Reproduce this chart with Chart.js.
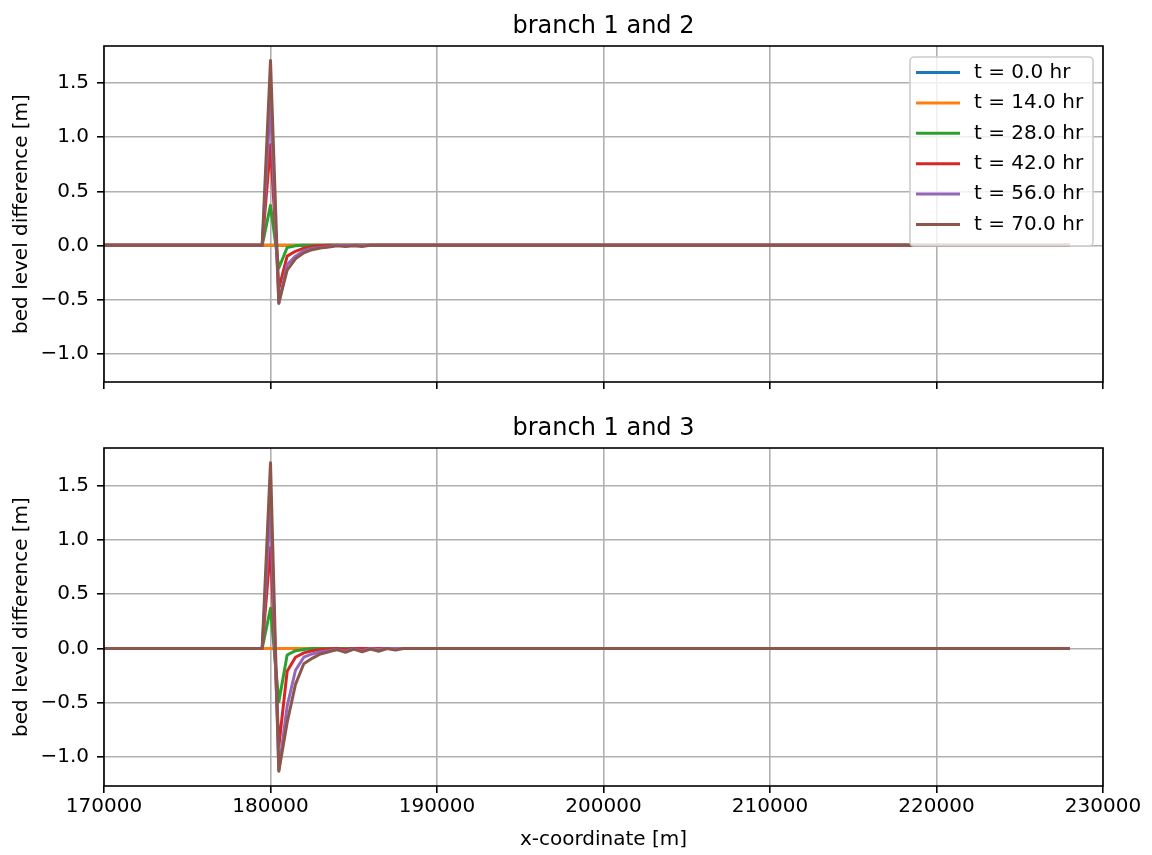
<!DOCTYPE html>
<html>
<head>
<meta charset="utf-8">
<script src="https://cdn.jsdelivr.net/npm/chart.js@4.4.0/dist/chart.umd.min.js"></script>
<style>
body { margin: 0; background: #fff; }
#wrap { position: relative; width: 1152px; height: 855px; }
canvas { position: absolute; left: 0; }
#top { top: 0; }
#bottom { top: 402px; }
</style>
</head>
<body>
<div id="wrap">
	<canvas id="top" width="1152" height="402"></canvas>
	<canvas id="bottom" width="1152" height="453"></canvas>
</div>
<script>
// x positions along the branch (m), the model output is flat outside this range
const xCoords = [170000, 179500, 180000, 180500, 181000, 181500, 182000, 182500, 183000, 183500,
	184000, 184500, 185000, 185500, 186000, 186500, 187000, 187500, 188000, 228000];

const timeLabels = ["t = 0.0 hr", "t = 14.0 hr", "t = 28.0 hr", "t = 42.0 hr", "t = 56.0 hr", "t = 70.0 hr"];
const lineColors = ["#1f77b4", "#ff7f0e", "#2ca02c", "#d62728", "#9467bd", "#8c564b"];

const xTicks = [170000, 180000, 190000, 200000, 210000, 220000, 230000];
const yTicks = [-1.0, -0.5, 0.0, 0.5, 1.0, 1.5];

// branch 1 and 2
const b12_t0 = [0, 0, 0, 0, 0, 0, 0, 0, 0, 0, 0, 0, 0, 0, 0, 0, 0, 0, 0, 0];
const b12_t14 = [0, 0, 0, 0, 0, 0, 0, 0, 0, 0, 0, 0, 0, 0, 0, 0, 0, 0, 0, 0];
const b12_t28 = [0, 0, 0.37, -0.21, -0.02, -0.005, 0, 0, 0, 0, 0, 0, 0, 0, 0, 0, 0, 0, 0, 0];
const b12_t42 = [0, 0, 0.93, -0.40, -0.10, -0.055, -0.025, -0.01, -0.005, 0, 0, 0, 0, 0, 0, 0, 0, 0, 0, 0];
const b12_t56 = [0, 0, 1.33, -0.54, -0.18, -0.10, -0.05, -0.03, -0.02, -0.01, 0, -0.005, 0, 0, 0, 0, 0, 0, 0, 0];
const b12_t70 = [0, 0, 1.71, -0.53, -0.23, -0.125, -0.07, -0.04, -0.025, -0.015, -0.005, -0.012, -0.003, -0.01, 0, 0, 0, 0, 0, 0];

// branch 1 and 3
const b13_t0 = [0, 0, 0, 0, 0, 0, 0, 0, 0, 0, 0, 0, 0, 0, 0, 0, 0, 0, 0, 0];
const b13_t14 = [0, 0, 0, 0, 0, 0, 0, 0, 0, 0, 0, 0, 0, 0, 0, 0, 0, 0, 0, 0];
const b13_t28 = [0, 0, 0.37, -0.49, -0.06, -0.02, -0.01, 0, 0, 0, 0, 0, 0, 0, 0, 0, 0, 0, 0, 0];
const b13_t42 = [0, 0, 0.93, -0.90, -0.21, -0.08, -0.04, -0.02, -0.01, -0.005, 0, -0.01, 0, 0, 0, 0, 0, 0, 0, 0];
const b13_t56 = [0, 0, 1.33, -1.12, -0.53, -0.20, -0.08, -0.05, -0.03, -0.02, -0.01, -0.025, -0.005, -0.02, 0, -0.01, 0, 0, 0, 0];
const b13_t70 = [0, 0, 1.71, -1.13, -0.68, -0.33, -0.14, -0.09, -0.05, -0.03, -0.01, -0.035, -0.005, -0.03, -0.005, -0.025, 0, -0.015, 0, 0];

const yMin = -1.265;
const yMax = 1.845;

Chart.defaults.font.family = '"DejaVu Sans", sans-serif';
Chart.defaults.color = "#000";

// black box round the plot area, like matplotlib spines
const framePlugin = {
	id: "frame",
	afterDatasetsDraw(chart) {
		const ctx = chart.ctx;
		const a = chart.chartArea;
		ctx.save();
		ctx.strokeStyle = "#000";
		ctx.lineWidth = 1.6;
		ctx.strokeRect(a.left, a.top, a.right - a.left, a.bottom - a.top);
		ctx.restore();
	},
};

// legend box inside the upper right corner
const boxLegend = {
	id: "boxLegend",
	afterDraw(chart, args, opts) {
		if (!opts.show) return;
		const ctx = chart.ctx;
		const a = chart.chartArea;
		const w = 183, h = 189;
		const x0 = a.right - 10 - w;
		const y0 = a.top + 11;
		ctx.save();
		ctx.beginPath();
		ctx.roundRect(x0, y0, w, h, 4);
		ctx.fillStyle = "rgba(255,255,255,0.8)";
		ctx.fill();
		ctx.strokeStyle = "#cccccc";
		ctx.lineWidth = 1.6;
		ctx.stroke();
		ctx.font = '20px "DejaVu Sans"';
		ctx.textBaseline = "middle";
		chart.data.datasets.forEach((ds, i) => {
			const y = y0 + 15.5 + i * 30.4;
			ctx.strokeStyle = ds.borderColor;
			ctx.lineWidth = 3;
			ctx.beginPath();
			ctx.moveTo(x0 + 6, y);
			ctx.lineTo(x0 + 50, y);
			ctx.stroke();
			ctx.fillStyle = "#000";
			ctx.fillText(ds.label, x0 + 64, y);
		});
		ctx.restore();
	},
};

function makeChart(canvasId, title, series, showXLabels, xAxisHeight, showLegend) {
	const ctx = document.getElementById(canvasId).getContext("2d");
	return new Chart(ctx, {
		type: "line",
		data: {
			datasets: series.map((values, i) => ({
				label: timeLabels[i],
				data: xCoords.map((x, k) => ({ x: x, y: values[k] })),
				borderColor: lineColors[i],
				backgroundColor: lineColors[i],
				borderWidth: 3,
				borderJoinStyle: "round",
				pointRadius: 0,
				tension: 0,
				fill: false,
				order: series.length - 1 - i,
			})),
		},
		options: {
			responsive: false,
			animation: false,
			events: [],
			layout: { padding: { left: 0, right: 49, top: 0, bottom: 0 } },
			plugins: {
				legend: { display: false },
				tooltip: { enabled: false },
				title: {
					display: true,
					text: title,
					fullSize: false,
					color: "#000",
					font: { size: 24, weight: "normal" },
					padding: { top: 12, bottom: 5.2 },
				},
				boxLegend: { show: showLegend },
			},
			scales: {
				x: {
					type: "linear",
					min: 170000,
					max: 230000,
					afterBuildTicks: (s) => {
						s.ticks = xTicks.map((v) => ({ value: v }));
					},
					afterFit: (s) => {
						s.height = xAxisHeight;
					},
					border: { display: false },
					grid: {
						color: "#b0b0b0",
						lineWidth: 1.6,
						tickColor: "#000",
						tickWidth: 1.6,
						tickLength: 7,
						drawTicks: true,
					},
					ticks: {
						display: showXLabels,
						font: { size: 20 },
						padding: 2,
						maxRotation: 0,
						autoSkip: false,
						callback: (v) => String(v),
					},
					title: {
						display: showXLabels,
						text: "x-coordinate [m]",
						font: { size: 20 },
						padding: { top: 0, bottom: 3 },
					},
				},
				y: {
					min: yMin,
					max: yMax,
					afterBuildTicks: (s) => {
						s.ticks = yTicks.map((v) => ({ value: v }));
					},
					afterFit: (s) => {
						s.width = 104;
					},
					border: { display: false },
					grid: {
						color: "#b0b0b0",
						lineWidth: 1.6,
						tickColor: "#000",
						tickWidth: 1.6,
						tickLength: 7,
						drawTicks: true,
					},
					ticks: {
						font: { size: 20 },
						padding: 8,
						callback: (v) => (v < 0 ? "\u2212" + Math.abs(v).toFixed(1) : v.toFixed(1)),
					},
					title: {
						display: true,
						text: "bed level difference [m]",
						font: { size: 20 },
						padding: { top: 10, bottom: 0 },
					},
				},
			},
		},
		plugins: [framePlugin, boxLegend],
	});
}

makeChart("top", "branch 1 and 2", [b12_t0, b12_t14, b12_t28, b12_t42, b12_t56, b12_t70], false, 18, true);
makeChart("bottom", "branch 1 and 3", [b13_t0, b13_t14, b13_t28, b13_t42, b13_t56, b13_t70], true, 69, false);
</script>
</body>
</html>
